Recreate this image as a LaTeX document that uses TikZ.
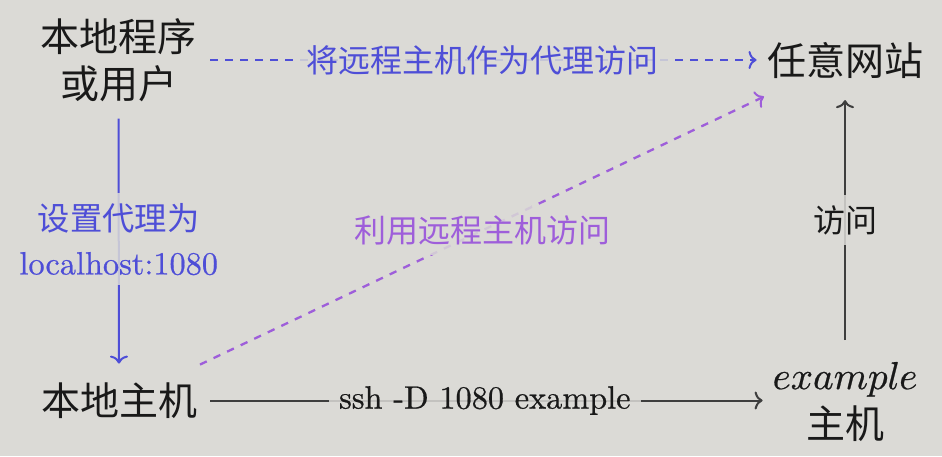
\documentclass[tikz,border=0pt]{standalone}
\usepackage{fontspec}
\newfontfamily\cjk{Noto Sans CJK SC}
\newfontfamily\lmten{lmroman10-regular.otf}[FakeBold=0.6]
\newfontfamily\lmmath{latinmodern-math.otf}[FakeBold=0.6]
\usetikzlibrary{arrows.meta}
\definecolor{bg}{RGB}{219,218,214}
\definecolor{cblue}{RGB}{78,78,215}
\definecolor{cpurple}{RGB}{158,94,218}
\definecolor{cdark}{RGB}{62,62,62}
\definecolor{ctext}{RGB}{25,25,25}
\begin{document}
\begin{tikzpicture}[x=1pt,y=-1pt,
  main/.style={font=\cjk\fontsize{39}{47}\selectfont, text=ctext, align=center, inner sep=0pt, outer sep=0pt},
  lab/.style={font=\lmten\fontsize{32.3}{44}\selectfont, fill=bg, fill opacity=0.85, text opacity=1, inner sep=10pt, align=center},
  cjklab/.style={lab, font=\cjk\fontsize{32}{44}\selectfont},
  arr/.style={line width=2pt, -{Computer Modern Rightarrow[length=8pt,width=18pt,line width=2pt]}},
  dsh/.style={dash pattern=on 7.5pt off 7.5pt}
]
\fill[bg] (0,0) rectangle (942,456);
\node[main] (A) at (118.5,60) {本地程序\\或用户};
\node[main] (B) at (845.5,60) {任意网站};
\node[main] (C) at (119,400.5) {本地主机};
\node[main, font=\cjk\fontsize{39}{49}\selectfont, anchor=north] (D) at (845,362) {{\lmmath 𝑒𝑥𝑎𝑚𝑝𝑙𝑒}\\主机};
% A -> B
\draw[arr, dsh, cblue, shorten <=13.5pt, shorten >=11pt] (A.east |- B.west) -- node[cjklab, text=cblue]{将远程主机作为代理访问} (B.west);
% A -> C
\draw[arr, cblue, shorten <=17pt, shorten >=19pt] (A.south) -- node[lab, text=cblue, pos=0.49]{{\cjk 设置代理为}\\localhost:1080} (C.north);
% C -> B diagonal
\draw[arr, dsh, cpurple, line width=2.3pt] ([xshift=3pt,yshift=18pt]C.north east) -- node[cjklab, text=cpurple]{利用远程主机访问} ([xshift=-3.5pt,yshift=-18.5pt]B.south west);
% D -> B
\draw[arr, cdark, shorten <=22pt, shorten >=22pt] (D.north) -- node[cjklab, text=ctext]{访问} (D.north |- B.south);
% C -> D
\draw[arr, cdark, shorten <=13pt, shorten >=10pt] (C.east) -- node[lab, text=ctext]{ssh -D 1080 example} (C.east -| D.west);
\end{tikzpicture}
\end{document}
